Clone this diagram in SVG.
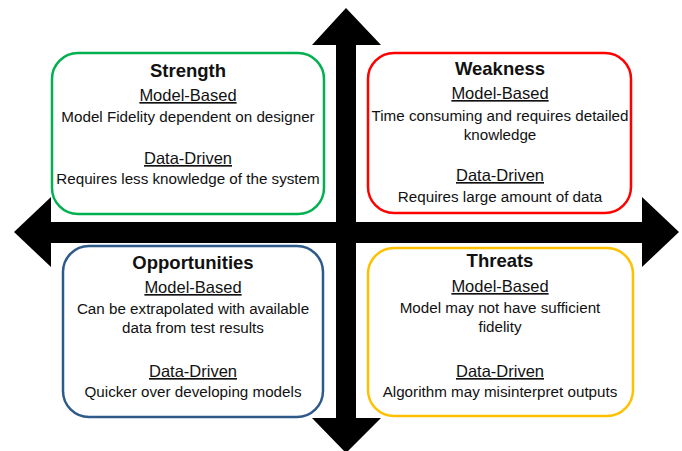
<svg xmlns="http://www.w3.org/2000/svg" width="682" height="451" viewBox="0 0 682 451">
<style>
.box{fill:#fff;stroke-width:2.5}
.t{font-family:"Liberation Sans",Arial,sans-serif;fill:#111;text-anchor:middle}
.ti{font-size:18.5px;font-weight:bold}
.h{font-size:16.5px;text-decoration:underline}
.b{font-size:15.2px}
.arr{fill:#000}
</style>
<rect width="682" height="451" fill="#fff"/>
<g id="connectors">
<polygon class="arr" points="346,8 381,45 356,45 356,418 381,418 346,453 312,418 336,418 336,45 312,45"/>
<polygon class="arr" points="14,232 51,197 51,222 642,222 642,197 679,232 642,267 642,243 51,243 51,267"/>
</g>
<g id="strength">
<rect class="box" x="52" y="53" width="272" height="161" rx="26" stroke="#00B050"/>
<text class="t ti" x="188" y="77">Strength</text>
<text class="t h" x="188" y="101">Model-Based</text>
<text class="t b" x="188" y="122">Model Fidelity dependent on designer</text>
<text class="t h" x="188" y="164">Data-Driven</text>
<text class="t b" x="188" y="184">Requires less knowledge of the system</text>
</g>
<g id="weakness">
<rect class="box" x="368" y="53" width="263" height="160" rx="26" stroke="#FF0000"/>
<text class="t ti" x="500" y="75">Weakness</text>
<text class="t h" x="500" y="99">Model-Based</text>
<text class="t b" x="500" y="121">Time consuming and requires detailed</text>
<text class="t b" x="500" y="140">knowledge</text>
<text class="t h" x="500" y="181">Data-Driven</text>
<text class="t b" x="500" y="202">Requires large amount of data</text>
</g>
<g id="opportunities">
<rect class="box" x="63" y="246" width="260" height="171" rx="26" stroke="#2E5A8A"/>
<text class="t ti" x="193" y="269">Opportunities</text>
<text class="t h" x="193" y="293">Model-Based</text>
<text class="t b" x="193" y="314">Can be extrapolated with available</text>
<text class="t b" x="193" y="333">data from test results</text>
<text class="t h" x="193" y="377">Data-Driven</text>
<text class="t b" x="193" y="397">Quicker over developing models</text>
</g>
<g id="threats">
<rect class="box" x="368" y="248" width="265" height="168" rx="26" stroke="#FFC000"/>
<text class="t ti" x="500" y="267">Threats</text>
<text class="t h" x="500" y="292">Model-Based</text>
<text class="t b" x="500" y="313">Model may not have sufficient</text>
<text class="t b" x="500" y="332">fidelity</text>
<text class="t h" x="500" y="377">Data-Driven</text>
<text class="t b" x="500" y="397">Algorithm may misinterpret outputs</text>
</g>
</svg>
